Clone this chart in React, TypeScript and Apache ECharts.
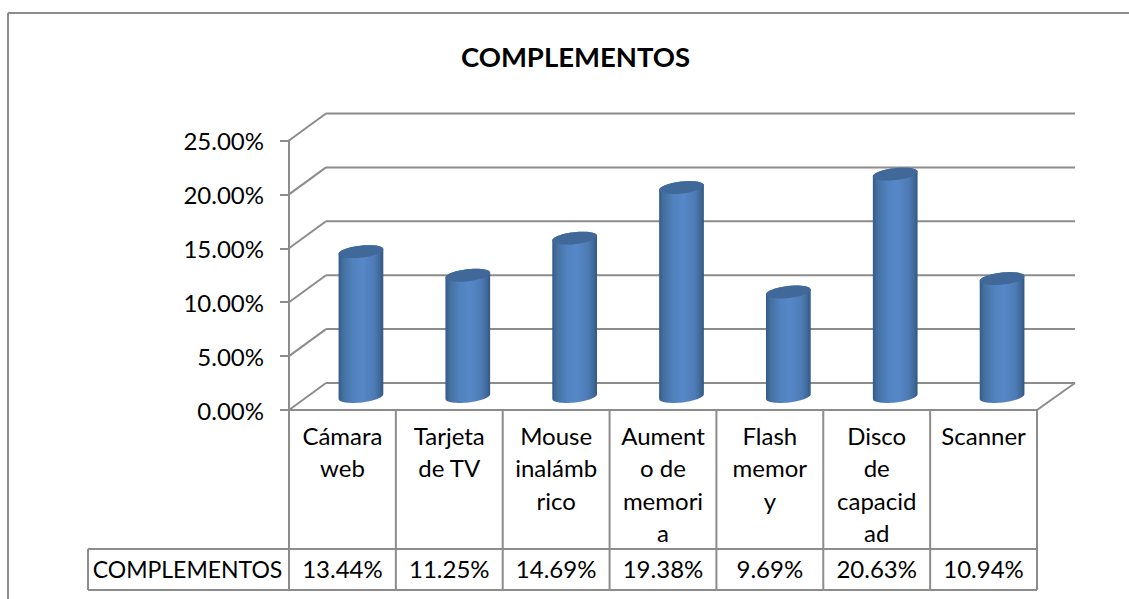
import React, { useEffect, useRef } from "react";
import * as echarts from "echarts";

const chartTitle = "COMPLEMENTOS";
const seriesName = "COMPLEMENTOS";
const categories = ["Cámara web", "Tarjeta de TV", "Mouse inalámbrico", "Aumento de memoria", "Flash memory", "Disco de capacidad", "Scanner"];
const wrappedLabels = ["Cámara\nweb", "Tarjeta\nde TV", "Mouse\ninalámb\nrico", "Aument\no de\nmemori\na", "Flash\nmemor\ny", "Disco\nde\ncapacid\nad", "Scanner"];
const percentages = [13.44, 11.25, 14.69, 19.38, 9.69, 20.63, 10.94];
const valueLabels = ["13.44%", "11.25%", "14.69%", "19.38%", "9.69%", "20.63%", "10.94%"];
const yTicks = [0, 5, 10, 15, 20, 25];

const FONT = "Lato";
const FONT_SIZE = 24;
const LINE = "#8c8c8c";
const DEPTH_X = 37;
const DEPTH_Y = 27;
const RX = 22.5;
const RY = 6;
const TILT = (-6.5 * Math.PI) / 180;

function ellipsePts(cx: number, cy: number, from: number, to: number, n = 32) {
  const pts: number[][] = [];
  for (let i = 0; i <= n; i++) {
    const t = from + ((to - from) * i) / n;
    const ex = RX * Math.cos(t);
    const ey = RY * Math.sin(t);
    pts.push([cx + ex * Math.cos(TILT) - ey * Math.sin(TILT), cy + ex * Math.sin(TILT) + ey * Math.cos(TILT)]);
  }
  return pts;
}

const lineEl = (x1: number, y1: number, x2: number, y2: number) => ({
  type: "line",
  shape: { x1, y1, x2, y2 },
  style: { stroke: LINE, lineWidth: 2, fill: "none" },
});

function renderWall(params: any, api: any) {
  const [x0, y] = api.coord([0, api.value(1)]);
  const band = api.size([1, 0])[0];
  const left = x0 - band / 2;
  const right = left + band * categories.length;
  const children: any[] = [
    lineEl(left, y, left + DEPTH_X, y - DEPTH_Y),
    lineEl(left + DEPTH_X, y - DEPTH_Y, right + DEPTH_X + 1, y - DEPTH_Y),
  ];
  if (api.value(1) === 0) {
    children.push(lineEl(left - 1, y, right + 1, y));
    children.push(lineEl(right, y, right + DEPTH_X + 1, y - DEPTH_Y));
  }
  return { type: "group", children };
}

function renderCylinder(params: any, api: any) {
  const [cx0, yTop0] = api.coord([api.value(0), api.value(1)]);
  const [, yBase0] = api.coord([api.value(0), 0]);
  const cx = cx0 + DEPTH_X / 2;
  const yTop = yTop0 - DEPTH_Y / 2;
  const yBase = yBase0 - DEPTH_Y / 2;
  const bodyFill = new echarts.graphic.LinearGradient(0, 0, 1, 0, [
    { offset: 0, color: "#335a8a" },
    { offset: 0.1, color: "#44709f" },
    { offset: 0.32, color: "#5182bf" },
    { offset: 0.55, color: "#5687c7" },
    { offset: 0.8, color: "#4d7bb5" },
    { offset: 0.93, color: "#3f6898" },
    { offset: 1, color: "#315683" },
  ]);
  const bodyPoints = [...ellipsePts(cx, yBase, Math.PI, 0), ...ellipsePts(cx, yTop, 0, -Math.PI)];
  return {
    type: "group",
    children: [
      { type: "polygon", shape: { points: bodyPoints }, style: { fill: bodyFill } },
      { type: "polygon", shape: { points: ellipsePts(cx, yTop, 0, Math.PI * 2, 48) }, style: { fill: "#40699a" } },
    ],
  };
}

function renderTable(params: any, api: any) {
  const i = api.value(0);
  const [cx, yBase] = api.coord([i, 0]);
  const band = api.size([1, 0])[0];
  const rowTop = yBase + 139;
  const rowBottom = yBase + 180;
  const textY = (rowTop + rowBottom) / 2 - 1;
  const right = cx + band / 2;
  const children: any[] = [
    lineEl(right, yBase, right, rowBottom),
    lineEl(cx - band / 2, rowTop, right, rowTop),
    lineEl(cx - band / 2, rowBottom, right, rowBottom),
    {
      type: "text",
      style: {
        text: valueLabels[i],
        x: cx,
        y: textY,
        align: "center",
        verticalAlign: "middle",
        fontFamily: FONT,
        fontSize: FONT_SIZE,
        fill: "#000",
      },
    },
  ];
  if (i === 0) {
    const left = cx - band / 2;
    const boxLeft = left - 201;
    children.push(
      lineEl(left, yBase, left, rowBottom),
      lineEl(boxLeft, rowTop, left, rowTop),
      lineEl(boxLeft, rowBottom, left, rowBottom),
      lineEl(boxLeft, rowTop, boxLeft, rowBottom),
      {
        type: "text",
        style: {
          text: seriesName,
          x: (boxLeft + left) / 2 - 1,
          y: textY,
          align: "center",
          verticalAlign: "middle",
          fontFamily: FONT,
          fontSize: 23,
          fill: "#000",
        },
      }
    );
  }
  return { type: "group", children };
}

export default function App() {
  const ref = useRef<HTMLDivElement>(null);
  useEffect(() => {
    document.body.style.margin = "0";
    const chart = echarts.init(ref.current!, null, { renderer: "svg" });
    chart.setOption({
      animation: false,
      backgroundColor: "#fff",
      title: {
        text: chartTitle,
        left: 570.5,
        top: 37,
        textAlign: "center",
        textStyle: { fontFamily: FONT, fontWeight: "bold", fontSize: 27.5, color: "#000" },
      },
      grid: { left: 289, right: 92, top: 140.5, height: 269.5, containLabel: false },
      xAxis: {
        type: "category",
        data: categories,
        axisLine: { show: false },
        axisTick: { show: false },
        axisLabel: {
          interval: 0,
          margin: 9,
          hideOverlap: false,
          fontFamily: FONT,
          fontSize: FONT_SIZE,
          color: "#000",
          lineHeight: 32.5,
          formatter: (_: string, i: number) => wrappedLabels[i],
        },
      },
      yAxis: {
        type: "value",
        min: yTicks[0],
        max: yTicks[yTicks.length - 1],
        interval: 5,
        splitLine: { show: false },
        axisLine: { show: true, lineStyle: { color: LINE, width: 2 } },
        axisTick: { show: true, length: 9, lineStyle: { color: LINE, width: 2 } },
        axisLabel: {
          margin: 25,
          fontFamily: FONT,
          fontSize: FONT_SIZE,
          color: "#000",
          formatter: (v: number) => v.toFixed(2) + "%",
        },
      },
      graphic: [
        { type: "line", shape: { x1: 8, y1: 13, x2: 1129, y2: 13 }, style: { stroke: LINE, lineWidth: 2 } },
        { type: "line", shape: { x1: 8, y1: 13, x2: 8, y2: 599 }, style: { stroke: LINE, lineWidth: 2 } },
      ],
      series: [
        {
          type: "custom",
          name: "wall",
          silent: true,
          clip: false,
          renderItem: renderWall,
          encode: { x: 0, y: 1 },
          data: yTicks.map((t) => [0, t]),
          z: 1,
        },
        {
          type: "custom",
          name: "table",
          silent: true,
          clip: false,
          renderItem: renderTable,
          encode: { x: 0, y: 1 },
          data: categories.map((_, i) => [i, 0]),
          z: 1,
        },
        {
          type: "custom",
          name: seriesName,
          silent: true,
          clip: false,
          renderItem: renderCylinder,
          encode: { x: 0, y: 1 },
          data: percentages.map((v, i) => [i, v]),
          z: 2,
        },
      ],
    });
    return () => chart.dispose();
  }, []);
  return <div ref={ref} style={{ width: 1129, height: 599 }} />;
}
